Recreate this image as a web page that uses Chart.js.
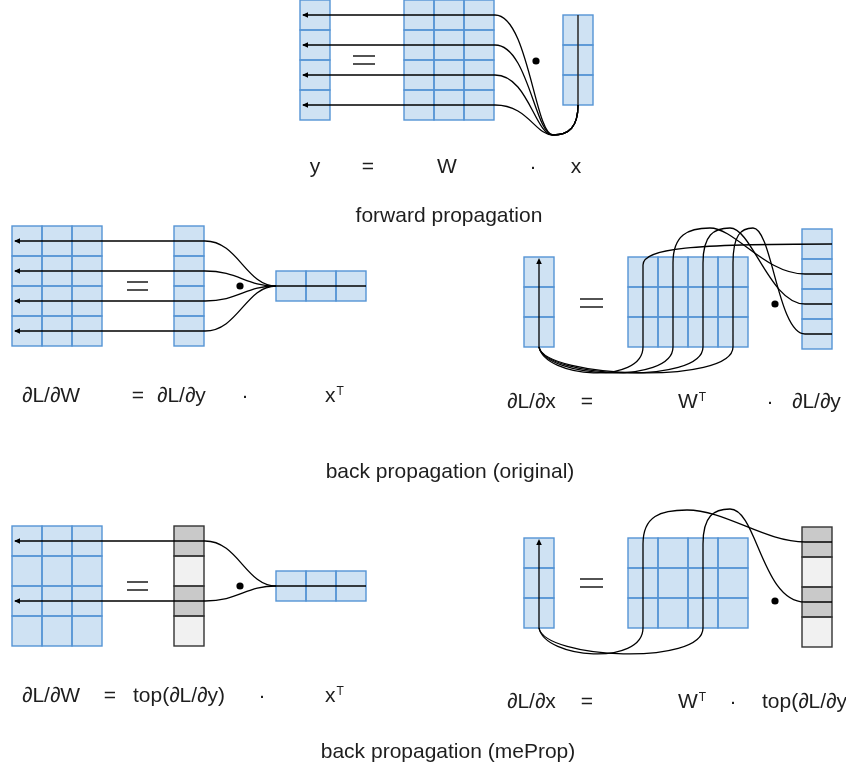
<!DOCTYPE html>
<html><head><meta charset="utf-8">
<script src="https://cdn.jsdelivr.net/npm/chart.js@4.4.0/dist/chart.umd.min.js"></script>
<style>html,body{margin:0;padding:0;background:#fff;}#wrap{width:846px;height:765px;position:relative;}</style>
</head><body><div id="wrap"><canvas id="c"></canvas></div>
<script>
// ---------------- data ----------------
const sectionTitles = ["forward propagation", "back propagation (original)", "back propagation (meProp)"];
const forwardTerms  = ["y", "=", "W", "·", "x"];
const backWTerms    = ["∂L/∂W", "=", "∂L/∂y", "·", "x"];
const backXTerms    = ["∂L/∂x", "=", "W", "·", "∂L/∂y"];
const mepWTerms     = ["∂L/∂W", "=", "top(∂L/∂y)", "·", "x"];
const mepXTerms     = ["∂L/∂x", "=", "W", "·", "top(∂L/∂y)"];
const transposeMark = "T";
// matrix shapes [rows, cols]
const yShape  = [4, 1];
const wShape  = [4, 3];
const xShape  = [3, 1];
const xtShape = [1, 3];
const wtShape = [3, 4];
// meProp: indices of the top-k rows kept in ∂L/∂y
const topRows = [0, 2];

// ---------------- layout (positions / styles) ----------------
const CELL = 30;
const BLUE_FILL = "#cfe2f3", BLUE_LINE = "#5594d5";
const GRAY_DARK = "#c9c9c9", GRAY_LIGHT = "#f1f1f1", GRAY_LINE = "#333";
const TEXT_COLOR = "#1e1e1e", FONT = "'Liberation Sans', Arial, sans-serif";

const L = {
  fw:  { y:[300,0], W:[404,0], x:[563,15], hub:[553,135], eq:[353,375,56,64] },
  bw:  { dW:[12,226], dy:[174,226], xt:[276,271], eq:[127,148,282,290] },
  bx:  { dx:[524,257], WT:[628,257], dy:[802,229], eq:[580,603,299,307], bot:347 },
  mw:  { dW:[12,526], dy:[174,526], xt:[276,571], eq:[127,148,582,590] },
  mx:  { dx:[524,538], WT:[628,538], dy:[802,527], eq:[580,603,579,587], bot:628 }
};
const dotPoints = [{x:536,y:61},{x:240,y:286},{x:775,y:304},{x:240,y:586},{x:775,y:601}];

// text rows: [x, align] per term, baseline
const rows = [
  { terms: forwardTerms, base:173, pos:[[315,'c'],[368,'c'],[447,'c'],[533,'c'],[576,'c']], sup:[] },
  { terms: backWTerms, base:402, pos:[[22,'l'],[138,'c'],[157,'l'],[245,'c'],[325,'l']], sup:[4] },
  { terms: backXTerms, base:408, pos:[[507,'l'],[587,'c'],[678,'l'],[770,'c'],[792,'l']], sup:[2] },
  { terms: mepWTerms, base:702, pos:[[22,'l'],[110,'c'],[133,'l'],[262,'c'],[325,'l']], sup:[4] },
  { terms: mepXTerms, base:708, pos:[[507,'l'],[587,'c'],[678,'l'],[733,'c'],[762,'l']], sup:[2] }
];
const titlePos = [[449,222],[450,478],[448,758]];

// arch specs for ∂L/∂x connections: [peakX, peakY, c1dx, c2x]
const archOrig = [null, [710,228,25,765], [730,228,22,770], [753,228,19,778]];
const archMep  = { 0:[687,510,38,765], 2:[730,509,27,762] };

const diagram = {
  id: 'diagram',
  beforeDatasetsDraw(chart) {
    const ctx = chart.ctx, xs = chart.scales.x, ys = chart.scales.y;
    const X = v => xs.getPixelForValue(v), Y = v => ys.getPixelForValue(v);

    function grid(o, shape, fills, stroke) {
      const [r, c] = shape;
      ctx.lineWidth = 1.4;
      for (let i = 0; i < r; i++) for (let j = 0; j < c; j++) {
        const x0 = X(o[0] + j*CELL), y0 = Y(o[1] + i*CELL);
        const w = X(o[0] + (j+1)*CELL) - x0, h = Y(o[1] + (i+1)*CELL) - y0;
        ctx.fillStyle = fills ? fills(i, j) : BLUE_FILL;
        ctx.fillRect(x0, y0, w, h);
      }
      ctx.strokeStyle = stroke || BLUE_LINE;
      for (let i = 0; i < r; i++) for (let j = 0; j < c; j++) {
        const x0 = X(o[0] + j*CELL), y0 = Y(o[1] + i*CELL);
        ctx.strokeRect(x0, y0, X(o[0] + (j+1)*CELL) - x0, Y(o[1] + (i+1)*CELL) - y0);
      }
    }
    function path(segs, color, lw) {
      ctx.beginPath();
      for (const s of segs) {
        if (s[0] === 'M') ctx.moveTo(X(s[1]), Y(s[2]));
        else if (s[0] === 'L') ctx.lineTo(X(s[1]), Y(s[2]));
        else ctx.bezierCurveTo(X(s[1]), Y(s[2]), X(s[3]), Y(s[4]), X(s[5]), Y(s[6]));
      }
      ctx.strokeStyle = color || '#000'; ctx.lineWidth = lw || 1.3; ctx.stroke();
    }
    function head(x, y, dir) { // dir: 'left' | 'up'
      ctx.beginPath();
      const px = X(x), py = Y(y);
      if (dir === 'left') { ctx.moveTo(px, py); ctx.lineTo(px+6, py-2.8); ctx.lineTo(px+6, py+2.8); }
      else { ctx.moveTo(px, py); ctx.lineTo(px-2.8, py+6); ctx.lineTo(px+2.8, py+6); }
      ctx.closePath(); ctx.fillStyle = '#000'; ctx.fill();
    }
    function eq(e) {
      path([['M',e[0],e[2]],['L',e[1],e[2]]], '#4a4a4a', 1.9);
      path([['M',e[0],e[3]],['L',e[1],e[3]]], '#4a4a4a', 1.9);
    }
    const grayFill = i => topRows.includes(i) ? GRAY_DARK : GRAY_LIGHT;

    // ---- forward ----
    const f = L.fw;
    grid(f.y, yShape); grid(f.W, wShape); grid(f.x, xShape); eq(f.eq);
    const xcx = f.x[0] + CELL/2, xBot = f.x[1] + xShape[0]*CELL;
    path([['M',xcx,f.x[1]],['L',xcx,xBot+1]], '#333', 1.6);
    for (let i = 0; i < yShape[0]; i++) {
      const yc = f.y[1] + CELL/2 + i*CELL, wr = f.W[0] + wShape[1]*CELL;
      path([['M',f.y[0]+3,yc],['L',wr+1,yc],['C',wr+34,yc, f.hub[0]-18,f.hub[1], f.hub[0],f.hub[1]],
            ['C',f.hub[0]+16,f.hub[1], xcx,f.hub[1]-8, xcx,xBot]]);
      head(f.y[0]+2, yc, 'left');
    }

    // ---- left panels ----
    function leftPanel(p, rowsUsed, fills, stroke) {
      grid(p.dW, wShape); grid(p.dy, yShape, fills, stroke); grid(p.xt, xtShape); eq(p.eq);
      const cy = p.xt[1] + CELL/2, xr = p.xt[0] + xtShape[1]*CELL, dyr = p.dy[0] + CELL;
      path([['M',p.xt[0],cy],['L',xr,cy]]);
      for (const i of rowsUsed) {
        const yc = p.dy[1] + CELL/2 + i*CELL;
        path([['M',p.dW[0]+3,yc],['L',dyr+1,yc],['C',dyr+34,yc, p.xt[0]-30,cy, p.xt[0],cy]]);
        head(p.dW[0]+2, yc, 'left');
      }
    }
    leftPanel(L.bw, [0,1,2,3]);
    leftPanel(L.mw, topRows, grayFill, GRAY_LINE);

    // ---- right panels ----
    function rightPanel(p, rowsUsed, fills, stroke, archs, firstStraight) {
      grid(p.dx, xShape); grid(p.WT, wtShape); grid(p.dy, yShape, fills, stroke); eq(p.eq);
      const ax = p.dx[0] + CELL/2, dyL = p.dy[0], dyR = p.dy[0] + CELL, top = p.WT[1];
      path([['M',ax,p.bot],['L',ax,p.dx[1]+3]]);
      head(ax, p.dx[1]+1, 'up');
      for (const j of rowsUsed) {
        const cx = p.WT[0] + CELL/2 + j*CELL, ry = p.dy[1] + CELL/2 + j*CELL;
        path([['M',ax,p.bot],['C',ax+6,p.bot+31, cx,p.bot+38, cx,p.bot]]);
        if (firstStraight && j === 0) {
          path([['M',cx,p.bot],['L',cx,top+8],['C',cx,top-9, cx+50,ry, dyR,ry]]);
        } else {
          const a = archs[j];
          path([['M',cx,p.bot],['L',cx,top+6],['C',cx,top-22, a[0]-(a[0]-cx)*0.6,a[1], a[0],a[1]],
                ['C',a[0]+a[2],a[1], a[3],ry, dyL+3,ry],['L',dyR,ry]]);
        }
      }
    }
    rightPanel(L.bx, [0,1,2,3], null, null, archOrig, true);
    rightPanel(L.mx, topRows, grayFill, GRAY_LINE, archMep, false);
  },
  afterDatasetsDraw(chart) {
    const ctx = chart.ctx, xs = chart.scales.x, ys = chart.scales.y;
    const X = v => xs.getPixelForValue(v), Y = v => ys.getPixelForValue(v);
    ctx.fillStyle = TEXT_COLOR; ctx.textBaseline = 'alphabetic';
    ctx.font = `21px ${FONT}`;
    ctx.textAlign = 'center';
    sectionTitles.forEach((t, i) => ctx.fillText(t, X(titlePos[i][0]), Y(titlePos[i][1])));
    for (const r of rows) {
      r.terms.forEach((t, i) => {
        const [px, al] = r.pos[i];
        ctx.font = `21px ${FONT}`;
        ctx.textAlign = al === 'c' ? 'center' : 'left';
        ctx.fillText(t, X(px), Y(r.base));
        if (r.sup.includes(i)) {
          const w = ctx.measureText(t).width;
          ctx.font = `12px ${FONT}`; ctx.textAlign = 'left';
          ctx.fillText(transposeMark, X(px) + w + 1, Y(r.base - 7));
        }
      });
    }
  }
};

new Chart(document.getElementById('c'), {
  type: 'scatter',
  data: { datasets: [{ data: dotPoints, pointRadius: 3.6, pointHoverRadius: 3.6,
                       backgroundColor: '#000', borderWidth: 0 }] },
  options: {
    responsive: true, maintainAspectRatio: false, animation: false,
    layout: { padding: 0, autoPadding: false },
    events: [],
    plugins: { legend: { display: false }, tooltip: { enabled: false } },
    scales: {
      x: { type: 'linear', min: 0, max: 846, display: false },
      y: { type: 'linear', min: 0, max: 765, reverse: true, display: false }
    }
  },
  plugins: [diagram]
});
</script></body></html>
